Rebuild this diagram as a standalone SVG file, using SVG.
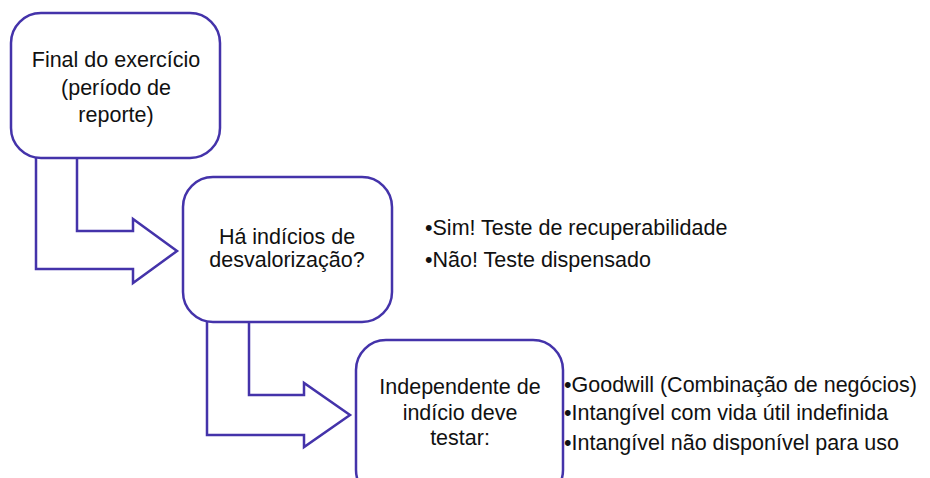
<svg xmlns="http://www.w3.org/2000/svg" width="930" height="478" viewBox="0 0 930 478">
<style>
.box{fill:#fff;stroke:#4433AA;stroke-width:2.5}
.arr{fill:#fff;stroke:#4433AA;stroke-width:2.5;stroke-linejoin:miter}
.t{font-family:"Liberation Sans",Arial,sans-serif;font-size:21.5px;fill:#111}
.c{text-anchor:middle}
</style>
<rect width="930" height="478" fill="#fff"/>
<g id="connectors">
<polygon class="arr" points="36,150 36,269 133,269 133,283 177,251 133,219 133,231 77,231 77,150"/>
<polygon class="arr" points="207,315 207,435 304,435 304,447 350,415 304,383 304,395 249,395 249,315"/>
</g>
<g id="node1">
<rect class="box" x="11" y="13" width="209" height="145" rx="30"/>
<text class="t c" x="116" y="67">Final do exercício</text>
<text class="t c" x="116" y="95">(período de</text>
<text class="t c" x="116" y="122">reporte)</text>
</g>
<g id="node2">
<rect class="box" x="183" y="177" width="209" height="145" rx="30"/>
<text class="t c" x="287" y="244">Há indícios de</text>
<text class="t c" x="287" y="267">desvalorização?</text>
</g>
<g id="node3">
<rect class="box" x="356" y="340" width="207" height="160" rx="30"/>
<text class="t c" x="460" y="394">Independente de</text>
<text class="t c" x="460" y="420">indício deve</text>
<text class="t c" x="460" y="445">testar:</text>
</g>
<g id="notes1">
<text class="t" x="425" y="235">•Sim! Teste de recuperabilidade</text>
<text class="t" x="425" y="267">•Não! Teste dispensado</text>
</g>
<g id="notes2">
<text class="t" x="564" y="392">•Goodwill (Combinação de negócios)</text>
<text class="t" x="564" y="420">•Intangível com vida útil indefinida</text>
<text class="t" x="564" y="450">•Intangível não disponível para uso</text>
</g>
</svg>
